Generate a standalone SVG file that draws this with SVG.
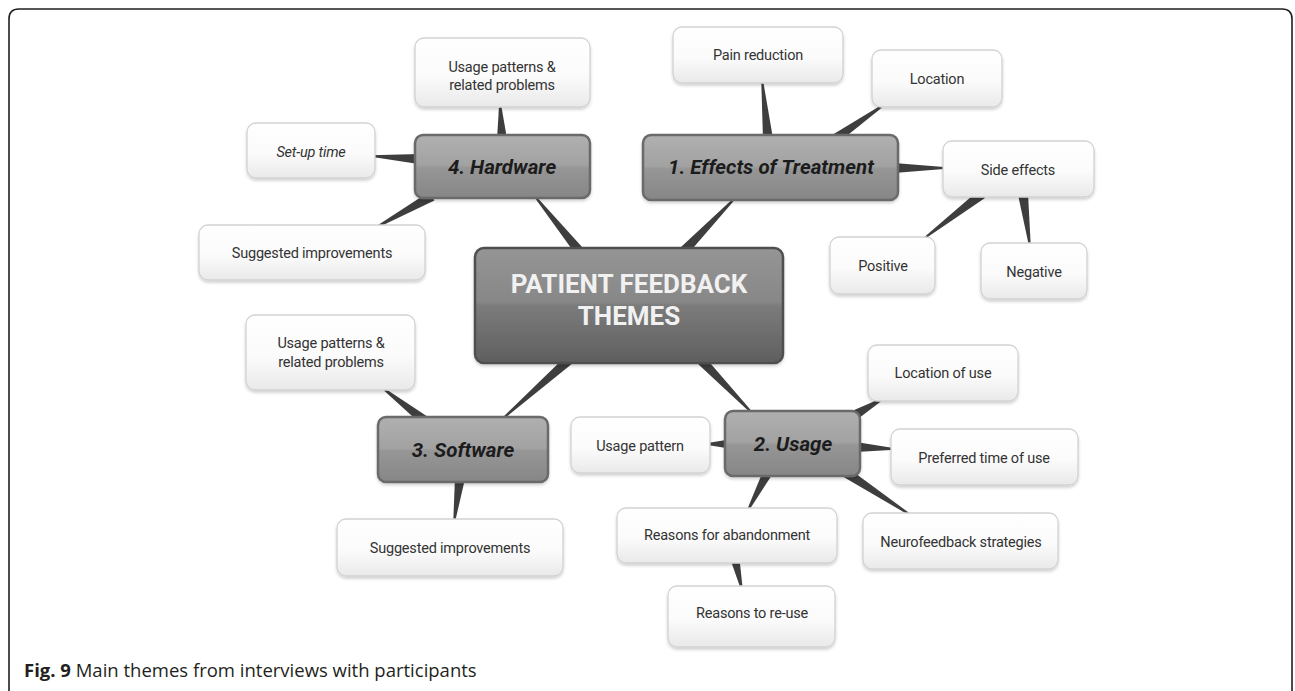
<svg xmlns="http://www.w3.org/2000/svg" width="1295" height="691" viewBox="0 0 1295 691">
<defs>
<linearGradient id="gChild" x1="0" y1="0" x2="0" y2="1">
<stop offset="0" stop-color="#ffffff"/><stop offset="0.55" stop-color="#fbfbfb"/><stop offset="1" stop-color="#e9e9e9"/>
</linearGradient>
<linearGradient id="gTheme" x1="0" y1="0" x2="0" y2="1">
<stop offset="0" stop-color="#b0b0b0"/><stop offset="0.48" stop-color="#a2a2a2"/><stop offset="0.52" stop-color="#969696"/><stop offset="1" stop-color="#868686"/>
</linearGradient>
<linearGradient id="gCentral" x1="0" y1="0" x2="0" y2="1">
<stop offset="0" stop-color="#959595"/><stop offset="0.47" stop-color="#878787"/><stop offset="0.5" stop-color="#7b7b7b"/><stop offset="1" stop-color="#5f5f5f"/>
</linearGradient>
<filter id="sh" x="-10%" y="-10%" width="120%" height="130%">
<feDropShadow dx="0" dy="2" stdDeviation="1.5" flood-color="#000" flood-opacity="0.18"/>
</filter>
</defs>
<style>
.child{fill:url(#gChild);stroke:#d2d2d2;stroke-width:1.3;filter:url(#sh)}
.theme{fill:url(#gTheme);stroke:#6a6a6a;stroke-width:2.5;filter:url(#sh)}
.central{fill:url(#gCentral);stroke:#4f4f4f;stroke-width:2.5;filter:url(#sh)}
.ct{font-family:Roboto,"Liberation Sans",sans-serif;font-size:14.5px;fill:#333;text-anchor:middle;letter-spacing:-0.2px}
.it{font-style:italic}
.tt{font-family:Roboto,"Liberation Sans",sans-serif;font-size:20.5px;font-weight:bold;font-style:italic;fill:#1c1c1c;text-anchor:middle}
.cen{font-family:Roboto,"Liberation Sans",sans-serif;font-size:26px;font-weight:bold;fill:#f1f1f1;text-anchor:middle}
.wedge{fill:#3e3e3e}
.cap{font-family:"Open Sans","Liberation Sans",sans-serif;font-size:18.5px;fill:#231f20}
</style>
<rect x="0" y="0" width="1295" height="691" fill="#ffffff"/>
<path d="M9 691 V19 Q9 9 19 9 H1282 Q1292 9 1292 19 V691" fill="none" stroke="#231f20" stroke-width="1.6"/>

<g id="connectors">
<polygon class="wedge" points="583.9,248.9 533.6,193.5 532.4,194.5 576.1,255.1"/>
<polygon class="wedge" points="686.6,255.5 737.6,196.6 736.4,195.4 679.4,248.5"/>
<polygon class="wedge" points="566.7,355.3 499.5,420.4 500.5,421.6 573.3,362.8"/>
<polygon class="wedge" points="696.4,362.5 753.4,415.6 754.6,414.4 703.6,355.5"/>
<polygon class="wedge" points="507,138.7 500.8,103 499.2,103 497,139.3"/>
<polygon class="wedge" points="419.5,154 371.1,155.2 370.9,156.8 418.5,164"/>
<polygon class="wedge" points="429.6,191.6 374.6,227.3 375.4,228.7 434.4,200.4"/>
<polygon class="wedge" points="773,138.5 762.8,78.9 761.2,79.1 763,139.5"/>
<polygon class="wedge" points="837.9,143.1 885.5,104.7 884.5,103.3 832.1,134.9"/>
<polygon class="wedge" points="894,173 947,168.8 947,167.2 894,163"/>
<polygon class="wedge" points="979,190 921.5,239.4 922.5,240.6 985,198"/>
<polygon class="wedge" points="1018,194.7 1029.2,247.1 1030.8,246.9 1028,193.3"/>
<polygon class="wedge" points="428.1,417.1 380.5,385.4 379.5,386.6 421.9,425"/>
<polygon class="wedge" points="455,477.3 453.2,522.9 454.8,523.1 465,478.7"/>
<polygon class="wedge" points="857.5,419.3 884.4,398.7 883.6,397.3 852.5,410.7"/>
<polygon class="wedge" points="856,452 895,449.8 895,448.2 856,442"/>
<polygon class="wedge" points="842.3,476.2 911.6,516.7 912.4,515.3 847.7,467.8"/>
<polygon class="wedge" points="729,439.5 706,443.2 706,444.8 729,448.5"/>
<polygon class="wedge" points="763.6,469.7 746.3,511.6 747.7,512.4 772.4,474.3"/>
<polygon class="wedge" points="730.6,560 741.2,590.2 742.8,589.8 739.4,558"/>
</g>

<g id="central">
<rect class="central" x="475" y="248" width="308" height="115" rx="9"/>
<text class="cen" x="629" y="293">PATIENT FEEDBACK</text>
<text class="cen" x="629" y="325">THEMES</text>
</g>

<g id="hardware">
<rect class="theme" x="415" y="135" width="175" height="63" rx="8"/>
<text class="tt" x="502" y="174">4. Hardware</text>
</g>
<g id="hw-usage">
<rect class="child" x="415" y="38" width="175" height="69" rx="9"/>
<text class="ct" x="502" y="72">Usage patterns &amp;</text>
<text class="ct" x="502" y="90">related problems</text>
</g>
<g id="hw-setup">
<rect class="child" x="247" y="123" width="128" height="55" rx="9"/>
<text class="ct it" x="311" y="157">Set-up time</text>
</g>
<g id="hw-suggested">
<rect class="child" x="199" y="225" width="226" height="55" rx="9"/>
<text class="ct" x="312" y="258">Suggested improvements</text>
</g>

<g id="effects">
<rect class="theme" x="643" y="135" width="255" height="65" rx="8"/>
<text class="tt" x="771" y="174">1. Effects of Treatment</text>
</g>
<g id="pain">
<rect class="child" x="673" y="27" width="170" height="56" rx="9"/>
<text class="ct" x="758" y="60">Pain reduction</text>
</g>
<g id="location">
<rect class="child" x="872" y="50" width="130" height="57" rx="9"/>
<text class="ct" x="937" y="84">Location</text>
</g>
<g id="side-effects">
<rect class="child" x="943" y="141" width="151" height="56" rx="9"/>
<text class="ct" x="1018" y="175">Side effects</text>
</g>
<g id="positive">
<rect class="child" x="830" y="237" width="105" height="57" rx="9"/>
<text class="ct" x="883" y="271">Positive</text>
</g>
<g id="negative">
<rect class="child" x="981" y="243" width="106" height="56" rx="9"/>
<text class="ct" x="1034" y="277">Negative</text>
</g>

<g id="software">
<rect class="theme" x="378" y="417" width="170" height="65" rx="8"/>
<text class="tt" x="463" y="457">3. Software</text>
</g>
<g id="sw-usage">
<rect class="child" x="246" y="315" width="169" height="75" rx="9"/>
<text class="ct" x="331" y="348">Usage patterns &amp;</text>
<text class="ct" x="331" y="367">related problems</text>
</g>
<g id="sw-suggested">
<rect class="child" x="337" y="519" width="226" height="57" rx="9"/>
<text class="ct" x="450" y="553">Suggested improvements</text>
</g>

<g id="usage">
<rect class="theme" x="725" y="411" width="135" height="65" rx="8"/>
<text class="tt" x="793" y="451">2. Usage</text>
</g>
<g id="location-of-use">
<rect class="child" x="868" y="345" width="150" height="56" rx="9"/>
<text class="ct" x="943" y="378">Location of use</text>
</g>
<g id="preferred-time">
<rect class="child" x="891" y="429" width="187" height="56" rx="9"/>
<text class="ct" x="984" y="463">Preferred time of use</text>
</g>
<g id="neurofeedback">
<rect class="child" x="863" y="513" width="195" height="56" rx="9"/>
<text class="ct" x="961" y="547">Neurofeedback strategies</text>
</g>
<g id="usage-pattern">
<rect class="child" x="571" y="417" width="139" height="56" rx="9"/>
<text class="ct" x="640" y="451">Usage pattern</text>
</g>
<g id="abandonment">
<rect class="child" x="617" y="508" width="220" height="55" rx="9"/>
<text class="ct" x="727" y="540">Reasons for abandonment</text>
</g>
<g id="reuse">
<rect class="child" x="668" y="586" width="167" height="61" rx="9"/>
<text class="ct" x="752" y="618">Reasons to re-use</text>
</g>

<text class="cap" x="24" y="677"><tspan font-weight="bold">Fig. 9</tspan> Main themes from interviews with participants</text>
</svg>
